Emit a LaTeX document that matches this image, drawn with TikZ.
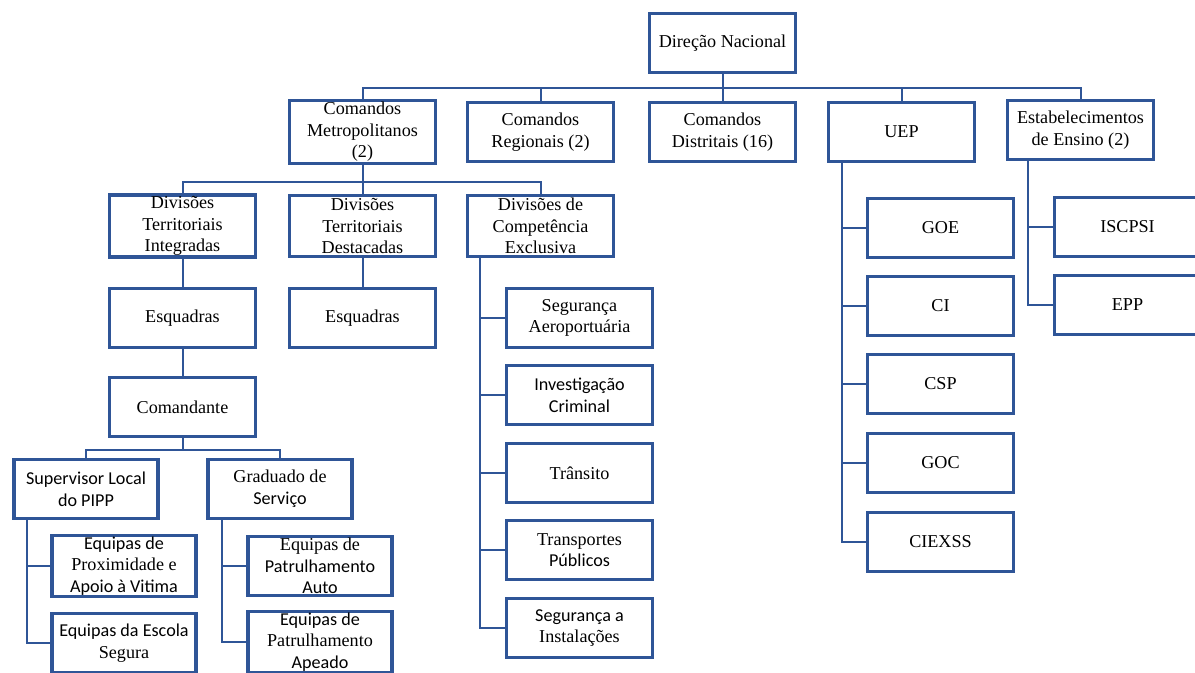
\documentclass[tikz,border=0pt]{standalone}
\usepackage{fontspec}
\setmainfont{Liberation Serif}
\setsansfont{Carlito}
\newcommand{\calib}{\sffamily}
\definecolor{boxblue}{HTML}{2F5597}
\tikzset{
  unit/.style={draw=boxblue, line width=2.4pt, fill=white, minimum width=109pt,
    minimum height=44pt, align=center, inner sep=1pt,
    font=\fontsize{13.6}{16.2}\selectfont},
  link/.style={draw=boxblue, line width=1.5pt}
}
\begin{document}
\begin{tikzpicture}[x=0.75pt, y=-0.75pt]
  \useasboundingbox (0,0) rectangle (1195,672);
  \clip (0,0) rectangle (1195,672);
  % top
  \node[unit] (dn) at (722.5,43) {Direção Nacional};
  \node[unit] (cm) at (362.5,132) {Comandos\\Metropolitanos\\(2)};
  \node[unit] (cr) at (540.5,132) {Comandos\\Regionais (2)};
  \node[unit] (cd) at (722.5,132) {Comandos\\Distritais (16)};
  \node[unit] (uep) at (901.5,132) {UEP};
  \node[unit] (ee) at (1080.5,130) {Estabelecimentos\\de Ensino (2)};
  \coordinate (bus1) at (722.5,88);
  \draw[link] (cm.north) |- (bus1) -| (ee.north);
  \draw[link] (dn.south) -- (dn.south |- bus1);
  \foreach \n in {cr,cd,uep}
    \draw[link] (\n.north) -- (\n.north |- bus1);
  % divisions
  \node[unit, minimum height=46pt] (dti) at (182.5,226) {Divisões\\Territoriais\\Integradas};
  \node[unit, minimum height=46pt] (dtd) at (362.5,226) {Divisões\\Territoriais\\Destacadas};
  \node[unit, minimum height=46pt] (dce) at (540.5,226) {Divisões de\\Competência\\Exclusiva};
  \coordinate (bus2) at (362.5,182);
  \draw[link] (dti.north) |- (bus2) -| (dce.north);
  \draw[link] (cm.south) -- (dtd.north);
  \node[unit] (esq1) at (182.5,318) {Esquadras};
  \node[unit] (esq2) at (362.5,318) {Esquadras};
  \node[unit] (cmd) at (182.5,407) {Comandante};
  \draw[link] (dti.south) -- (esq1.north);
  \draw[link] (esq1.south) -- (cmd.north);
  \draw[link] (dtd.south) -- (esq2.north);
  % under the Comandante
  \node[unit, minimum width=108pt] (slp) at (86,489) {{\calib Supervisor Local}\\{\calib do PIPP}};
  \node[unit, minimum width=108pt] (gs) at (280,489) {Graduado de\\{\calib Serviço}};
  \coordinate (bus3) at (182.5,450);
  \draw[link] (slp.north) |- (bus3) -| (gs.north);
  \draw[link] (cmd.south) -- (bus3);
  \node[unit, minimum width=108pt] (epav) at (124,566) {{\calib Equipas de}\\Proximidade e\\{\calib Apoio à Vitima}};
  \node[unit, minimum width=108pt] (ees) at (124,643) {{\calib Equipas da Escola}\\Segura};
  \node[unit, minimum width=108pt] (epau) at (320,566) {Equipas de\\{\calib Patrulhamento}\\{\calib Auto}};
  \node[unit, minimum width=108pt] (epap) at (320,642) {{\calib Equipas de}\\Patrulhamento\\{\calib Apeado}};
  \coordinate (t1) at (27,520);
  \coordinate (t2) at (222,520);
  \draw[link] (t1) |- (ees.west);
  \draw[link] (epav.west) -- (epav.west -| t1);
  \draw[link] (t2) |- (epap.west);
  \draw[link] (epau.west) -- (epau.west -| t2);
  % exclusive competence
  \node[unit] (sa) at (579.5,318) {Segurança\\Aeroportuária};
  \node[unit] (ic) at (579.5,395) {{\calib Investigação}\\{\calib Criminal}};
  \node[unit] (tr) at (579.5,473) {Trânsito};
  \node[unit] (tp) at (579.5,550) {Transportes\\{\calib Públicos}};
  \node[unit] (si) at (579.5,628) {{\calib Segurança a}\\Instalações};
  \coordinate (t3) at (480,258);
  \draw[link] (t3) |- (si.west);
  \foreach \n in {sa,ic,tr,tp}
    \draw[link] (\n.west) -- (\n.west -| t3);
  % UEP
  \node[unit] (goe) at (940.5,228) {GOE};
  \node[unit] (ci) at (940.5,306) {CI};
  \node[unit] (csp) at (940.5,384) {CSP};
  \node[unit] (goc) at (940.5,463) {GOC};
  \node[unit] (ciexss) at (940.5,542) {CIEXSS};
  \coordinate (t4) at (842,163);
  \draw[link] (t4) |- (ciexss.west);
  \foreach \n in {goe,ci,csp,goc}
    \draw[link] (\n.west) -- (\n.west -| t4);
  % schools
  \node[unit] (iscpsi) at (1127.5,227) {ISCPSI};
  \node[unit] (epp) at (1127.5,305) {EPP};
  \coordinate (t5) at (1028,161);
  \draw[link] (t5) |- (epp.west);
  \draw[link] (iscpsi.west) -- (iscpsi.west -| t5);
\end{tikzpicture}
\end{document}
